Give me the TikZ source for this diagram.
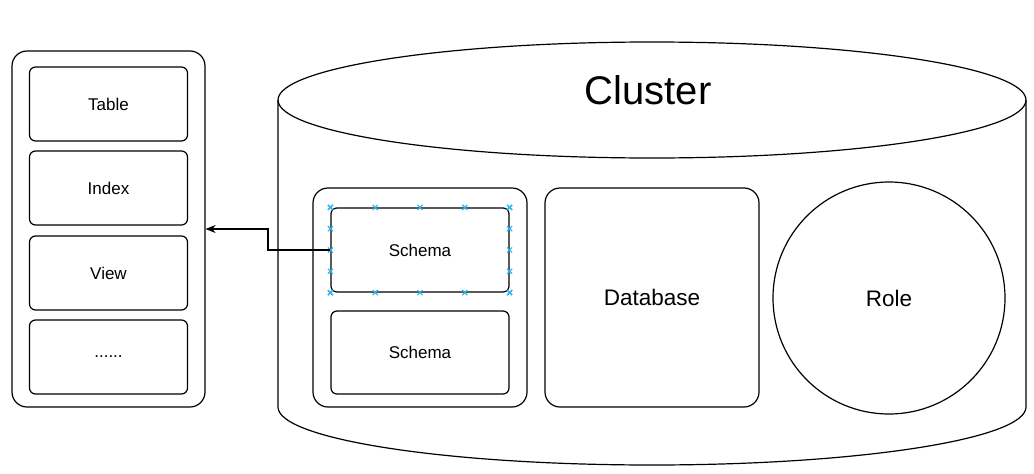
\documentclass[tikz,border=0pt]{standalone}
\usepackage{fontspec}
\setmainfont{Liberation Sans}
\usepackage{tikz}
\usetikzlibrary{arrows.meta,positioning,calc}

\definecolor{handleblue}{RGB}{41,182,242}

\tikzset{
    outerbox/.style={draw, line width=1.2pt, rounded corners=15pt, inner sep=0pt},
    innerbox/.style={draw, line width=1.2pt, rounded corners=6pt, inner sep=0pt,
        minimum width=158pt, minimum height=74pt, font=\fontsize{17}{19}\selectfont},
    handle/.style={draw=handleblue, line width=1.2pt},
    xmark/.pic={\draw[handle] (-2.5,-2.5) -- (2.5,2.5) (-2.5,2.5) -- (2.5,-2.5);}
}

\begin{document}
\begin{tikzpicture}[x=1pt, y=-1pt, line width=1.2pt]
    \useasboundingbox (0,0) rectangle (1034,474);

    % Objects list
    \node[outerbox, minimum width=193pt, minimum height=356pt] (objs) at (108.5,229) {};
    \node[innerbox] (table) at (108.5,104) {Table};
    \node[innerbox] (index) at (108.5,188) {Index};
    \node[innerbox] (view) at (108.5,273) {View};
    \node[innerbox] (more) at (108.5,357) {......};

    % Cluster cylinder
    \draw (652,100) ellipse [x radius=374pt, y radius=58pt];
    \draw (278,100) -- (278,407)
        arc[start angle=180, end angle=360, x radius=374pt, y radius=58pt] -- (1026,100);
    \node[font=\fontsize{40}{44}\selectfont] (cluster) at (648,90) {Cluster};

    % Schemas
    \node[outerbox, minimum width=214pt, minimum height=219pt] (schemas) at (420,297.5) {};
    \node[innerbox, minimum width=178pt, minimum height=84pt] (s1) at (420,250) {Schema};
    \node[innerbox, minimum width=178pt, minimum height=83pt] (s2) at (420,352.5) {Schema};
    \foreach \t in {0,0.25,0.5,0.75,1} {
        \pic at ($(s1.north west)!\t!(s1.north east)$) {xmark};
        \pic at ($(s1.south west)!\t!(s1.south east)$) {xmark};
        \pic at ($(s1.north west)!\t!(s1.south west)$) {xmark};
        \pic at ($(s1.north east)!\t!(s1.south east)$) {xmark};
    }

    % Database and role
    \node[outerbox, minimum width=214pt, minimum height=219pt,
        font=\fontsize{22.5}{26}\selectfont] (db) at (652,297.5) {Database};
    \node[draw, circle, line width=1.2pt, minimum size=232pt, inner sep=0pt,
        font=\fontsize{22.5}{26}\selectfont] (role) at (889,298) {Role};

    % Arrow
    \coordinate (bend) at (268,250);
    \draw[-{Stealth[length=10pt,width=8pt]}] (s1.west) -- (bend) |- (objs.east);
\end{tikzpicture}
\end{document}
